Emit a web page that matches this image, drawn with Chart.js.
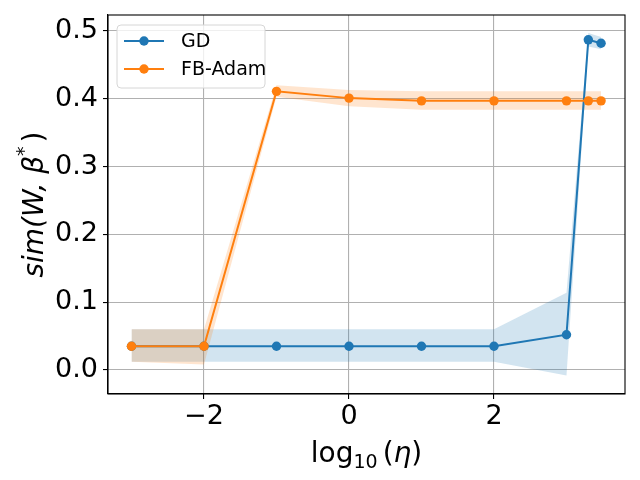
<!DOCTYPE html>
<html>
<head>
<meta charset="utf-8">
<script src="https://cdn.jsdelivr.net/npm/chart.js@4.4.0/dist/chart.umd.min.js"></script>
<style>
  html, body { margin: 0; padding: 0; background: #fff; }
  #wrap { width: 640px; height: 480px; }
</style>
</head>
<body>
<div id="wrap"><canvas id="c"></canvas></div>
<script>
  // log10 of the learning rates
  const etaLog = [-3, -2, -1, 0, 1, 2, 3, 3.301, 3.477];

  const gdMean  = [0.035, 0.035, 0.035, 0.035, 0.035, 0.035, 0.052, 0.487, 0.482];
  const gdUpper = [0.060, 0.060, 0.060, 0.060, 0.060, 0.060, 0.114, 0.497, 0.491];
  const gdLower = [0.012, 0.012, 0.012, 0.012, 0.012, 0.012, -0.008, 0.477, 0.473];

  const fbMean  = [0.035, 0.035, 0.411, 0.401, 0.397, 0.397, 0.397, 0.397, 0.397];
  const fbUpper = [0.060, 0.060, 0.420, 0.413, 0.411, 0.411, 0.411, 0.411, 0.411];
  const fbLower = [0.012, 0.008, 0.403, 0.389, 0.384, 0.384, 0.384, 0.384, 0.384];

  const xTicks = [-2, 0, 2];
  const yTicks = [0.0, 0.1, 0.2, 0.3, 0.4, 0.5];

  const BLUE = "#1f77b4";
  const ORANGE = "#ff7f0e";
  const FONT = "'DejaVu Sans', sans-serif";

  const pts = (ys) => etaLog.map((x, i) => ({ x, y: ys[i] }));

  const band = (ys, color, fill) => ({
    label: "",
    data: pts(ys),
    showLine: true,
    borderWidth: 0,
    pointRadius: 0,
    borderColor: "transparent",
    backgroundColor: color,
    fill: fill,
    isBand: true,
  });

  const line = (label, ys, color) => ({
    label,
    data: pts(ys),
    showLine: true,
    borderColor: color,
    backgroundColor: color,
    borderWidth: 2,
    pointRadius: 4.7,
    pointHoverRadius: 4.7,
    pointBorderWidth: 0,
    fill: false,
    isLine: true,
  });

  // Chart.js paints the first dataset last (on top)
  const datasets = [
    line("FB-Adam", fbMean, ORANGE),
    line("GD", gdMean, BLUE),
    band(fbUpper, "rgba(255,127,14,0.2)", "+1"),
    band(fbLower, "rgba(255,127,14,0.2)", false),
    band(gdUpper, "rgba(31,119,180,0.2)", "+1"),
    band(gdLower, "rgba(31,119,180,0.2)", false),
  ];

  // frame, axis titles and legend drawn by hand
  const extras = {
    id: "extras",
    afterDraw(chart) {
      const { ctx, chartArea: a } = chart;
      ctx.save();
      ctx.strokeStyle = "#000";
      ctx.lineWidth = 1.1;
      ctx.strokeRect(a.left, a.top, a.right - a.left, a.bottom - a.top);

      ctx.fillStyle = "#000";
      ctx.textBaseline = "alphabetic";

      // x title: log10(η)
      const big = 28, small = 19;
      const parts = [
        { t: "log", f: `${big}px ${FONT}`, dy: 0 },
        { t: "10", f: `${small}px ${FONT}`, dy: 6 },
        { t: "(", f: `${big}px ${FONT}`, dy: 0, pre: 5 },
        { t: "η", f: `italic ${big}px ${FONT}`, dy: 0 },
        { t: ")", f: `${big}px ${FONT}`, dy: 0 },
      ];
      let w = 0;
      parts.forEach(p => { ctx.font = p.f; p.w = ctx.measureText(p.t).width; w += p.w + (p.pre || 0); });
      let x = (a.left + a.right) / 2 - w / 2;
      const yb = 462;
      parts.forEach(p => {
        x += p.pre || 0;
        ctx.font = p.f;
        ctx.fillText(p.t, x, yb + p.dy);
        x += p.w;
      });

      // y title: sim(W, β*)
      ctx.translate(43, (a.top + a.bottom) / 2);
      ctx.rotate(-Math.PI / 2);
      const yp = [
        { t: "sim(W, β", f: `italic ${big}px ${FONT}`, dy: 0 },
        { t: "*", f: `${small}px ${FONT}`, dy: -13 },
        { t: ")", f: `${big}px ${FONT}`, dy: 0, pre: 4 },
      ];
      w = 0;
      yp.forEach(p => { ctx.font = p.f; p.w = ctx.measureText(p.t).width; w += p.w + (p.pre || 0); });
      x = -w / 2;
      yp.forEach(p => {
        x += p.pre || 0;
        ctx.font = p.f;
        ctx.fillText(p.t, x, p.dy);
        x += p.w;
      });
      ctx.restore();

      // legend
      ctx.save();
      const lx = a.left + 9, ly = a.top + 10, lw = 148, lh = 63;
      ctx.beginPath();
      ctx.roundRect(lx, ly, lw, lh, 4);
      ctx.fillStyle = "rgba(255,255,255,0.8)";
      ctx.fill();
      ctx.strokeStyle = "#d6d6d6";
      ctx.lineWidth = 1;
      ctx.stroke();
      const entries = chart.data.datasets.filter(d => d.isLine).reverse();
      ctx.font = `19px ${FONT}`;
      ctx.textBaseline = "middle";
      entries.forEach((d, i) => {
        const cy = ly + 16 + i * 28;
        ctx.strokeStyle = d.borderColor;
        ctx.lineWidth = 2;
        ctx.beginPath();
        ctx.moveTo(lx + 7, cy);
        ctx.lineTo(lx + 47, cy);
        ctx.stroke();
        ctx.fillStyle = d.borderColor;
        ctx.beginPath();
        ctx.arc(lx + 27, cy, 4.7, 0, Math.PI * 2);
        ctx.fill();
        ctx.fillStyle = "#000";
        ctx.fillText(d.label, lx + 64, cy + 1);
      });
      ctx.restore();
    },
  };

  new Chart(document.getElementById("c"), {
    type: "scatter",
    data: { datasets },
    plugins: [extras],
    options: {
      responsive: true,
      maintainAspectRatio: false,
      animation: false,
      layout: { padding: { top: 15, right: 15, left: 0, bottom: 0 } },
      plugins: { legend: { display: false }, tooltip: { enabled: false } },
      scales: {
        x: {
          type: "linear",
          min: -3.324,
          max: 3.807,
          afterFit: (s) => { s.height = 86; s.paddingLeft = 0; s.paddingRight = 0; },
          afterBuildTicks: (s) => { s.ticks = xTicks.map(v => ({ value: v })); },
          ticks: {
            color: "#000",
            font: { family: FONT, size: 27 },
            padding: 2,
            callback: (v) => (v < 0 ? "\u2212" + Math.abs(v) : String(v)),
          },
          grid: { color: "#b0b0b0", lineWidth: 1.1, tickLength: 5, tickColor: "#000" },
          border: { color: "#000", width: 1.1 },
        },
        y: {
          type: "linear",
          min: -0.0354,
          max: 0.5236,
          afterFit: (s) => { s.width = 108; s.paddingTop = 0; s.paddingBottom = 0; },
          afterBuildTicks: (s) => { s.ticks = yTicks.map(v => ({ value: v })); },
          ticks: {
            color: "#000",
            font: { family: FONT, size: 27 },
            padding: 5,
            callback: (v) => v.toFixed(1),
          },
          grid: { color: "#b0b0b0", lineWidth: 1.1, tickLength: 5, tickColor: "#000" },
          border: { color: "#000", width: 1.1 },
        },
      },
    },
  });
</script>
</body>
</html>
